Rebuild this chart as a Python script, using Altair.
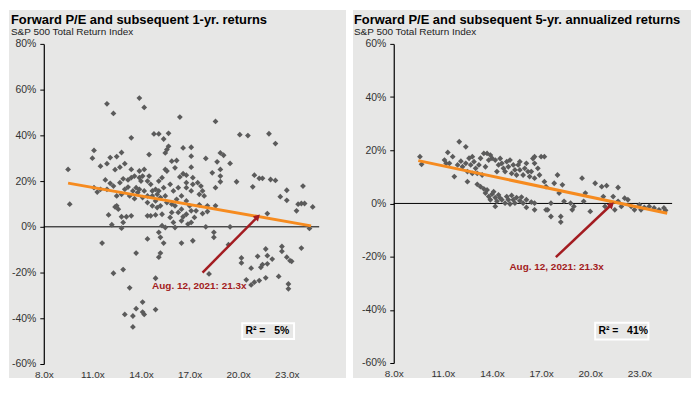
import altair as alt
import pandas as pd

# ---------------- data ----------------
left_pe = [9.5, 9.6, 11.9, 12.3, 13.9, 14.2, 16.4, 18.6, 13.4, 14.8, 15.1, 15.7, 15.4, 11.1, 11.0, 11.5, 11.9, 12.1,
           12.5, 12.8, 13.0, 12.4, 12.7, 13.4, 13.6, 13.4, 13.2, 12.9, 11.8, 12.1, 11.9, 11.1, 11.3, 11.5, 12.3, 12.7,
           12.5, 12.8, 12.4, 12.6, 12.5, 12.0, 12.2, 12.8, 11.6, 12.9, 13.1, 13.4, 12.8, 13.6, 13.8, 13.9, 14.0, 13.9,
           13.9, 14.2, 14.1, 14.4, 14.5, 14.5, 14.6, 14.2, 14.4, 14.7, 14.9, 15.1, 15.3, 15.5, 15.6, 15.5, 15.6, 15.7,
           15.9, 16.2, 16.1, 16.4, 16.6, 16.8, 16.6, 17.1, 17.1, 17.1, 17.2, 16.8, 17.5, 17.7, 17.8, 17.6, 17.9, 18.0,
           18.4, 18.7, 18.9, 18.9, 19.1, 19.5, 18.9, 18.9, 18.6, 19.9, 20.1, 20.6, 21.9, 22.3, 21.0, 20.9, 21.3, 21.5,
           22.0, 22.3, 23.0, 24.0, 22.6, 23.0, 23.7, 23.9, 24.1, 23.6, 24.6, 24.4, 21.8, 19.5, 18.6, 18.1, 18.0, 18.5,
           18.5, 17.2, 16.5, 15.4, 15.1, 15.2, 15.3, 15.5, 16.0, 16.1, 16.9, 17.1, 14.4, 14.4, 14.6, 14.9, 15.3, 15.8,
           16.3, 16.6, 16.8, 17.1, 17.4, 17.3, 16.5, 15.9, 15.0, 14.7, 15.2, 14.9, 15.2, 15.5, 15.6, 15.9, 16.1, 16.2,
           16.5, 16.5, 16.8, 17.0, 16.8, 17.1, 17.2, 16.3, 16.0, 15.8, 15.4, 15.1, 14.4, 14.1, 13.7, 13.5, 13.2, 13.0,
           13.3, 14.7, 15.0, 17.6, 18.1, 17.8, 13.7, 15.2, 15.1, 12.3, 12.9, 14.9, 13.3, 18.2, 20.2, 20.2, 21.2, 21.7,
           21.8, 22.1, 22.7, 22.7, 23.0, 23.2, 23.3, 23.9, 20.8, 21.4, 21.5, 21.8, 21.3, 21.0, 20.8, 20.5, 21.7, 22.5,
           23.1, 23.1, 14.1, 13.7, 13.0, 13.5, 14.1, 14.2, 14.9, 13.5, 19.4]
left_ret = [25.1, 9.9, 53.8, 49.6, 56.3, 52.2, 48.0, 46.1, 38.9, 40.6, 40.6, 40.9, 38.4, 33.4, 30.0, 26.5, 27.6, 30.3,
            30.7, 32.5, 27.6, 25.0, 26.1, 25.1, 22.2, 21.5, 20.5, 21.0, 20.5, 19.0, 16.4, 17.1, 15.2, 16.4, 17.8, 19.3,
            13.5, 14.2, 8.7, 7.7, 9.2, 5.2, 0.9, -0.6, -7.1, 1.9, 4.4, 4.8, 4.4, 12.3, 15.0, 16.4, 20.0, 21.5,
            24.4, 25.1, 22.2, 20.0, 22.2, 31.6, 18.6, 15.7, 13.5, 15.7, 16.4, 20.0, 21.5, 25.1, 24.4, 32.3, 33.8, 35.2,
            28.7, 29.0, 25.8, 21.8, 23.2, 22.6, 34.5, 34.8, 30.9, 26.1, 21.5, 19.3, 19.3, 17.8, 15.7, 14.2, 13.5, 29.9,
            23.6, 28.4, 25.1, 32.3, 31.3, 27.7, 22.2, 19.7, 17.1, 19.7, 40.3, 39.9, 40.7, 36.4, 22.6, 17.5, 21.2, 21.2,
            20.7, 20.3, 16.0, 17.8, 13.2, 11.6, 9.9, 10.2, 10.2, 7.0, 8.7, -0.7, 5.8, 0.0, 9.2, 6.7, 0.0, -2.4,
            -4.6, -6.1, -7.1, -7.1, -2.4, -4.6, 0.5, -0.3, 1.9, -0.3, 1.2, 1.9, -5.3, 4.8, 4.8, 5.2, 5.5, 4.1,
            6.3, 4.4, 5.5, 7.0, 7.0, 4.1, 2.6, 6.3, 8.4, 9.2, 9.2, 11.3, 12.8, 13.5, 10.6, 9.9, 9.2, 12.0,
            13.5, 7.7, 11.3, 9.2, 17.1, 15.7, 18.6, 17.1, 15.7, 18.6, 17.1, 15.7, 10.6, 12.8, 17.1, 15.7, 17.4, 16.4,
            13.5, 13.5, 14.2, 9.6, 9.2, 5.8, -11.5, -11.5, -13.3, -20.3, -18.7, -22.5, -26.7, -20.6, -13.6, -15.8, -12.9, -9.7,
            -12.6, -14.1, -8.6, -10.7, -13.3, -14.8, -15.1, -9.3, -18.1, -17.7, -16.5, -16.2, -23.5, -24.2, -25.4, -23.2, -22.3, -21.7,
            -25.0, -27.1, -32.9, -35.8, -38.3, -39.0, -37.3, -38.3, -36.2, -43.8, -7.8]

right_pe = [9.6, 9.7, 12.0, 12.4, 11.3, 11.6, 11.1, 11.4, 11.7, 11.2, 11.9, 12.1, 12.2, 12.4, 12.6, 12.8, 12.7, 12.9,
            12.5, 12.5, 13.0, 13.2, 13.1, 12.8, 13.3, 13.5, 13.7, 13.9, 14.0, 13.8, 13.6, 13.4, 13.1, 13.3, 13.7, 13.6,
            13.8, 13.9, 14.2, 14.3, 14.2, 14.4, 14.6, 14.8, 14.9, 15.0, 15.1, 15.3, 15.4, 15.5, 15.7, 15.9, 16.1, 16.1,
            16.4, 16.6, 14.4, 14.3, 14.2, 14.5, 14.6, 14.7, 14.8, 14.9, 15.0, 15.1, 15.2, 15.3, 15.4, 15.5, 15.6, 15.7,
            15.7, 15.9, 16.0, 16.1, 16.2, 16.3, 16.4, 16.5, 16.6, 16.6, 16.8, 16.9, 17.0, 17.2, 16.6, 17.2, 17.3, 17.8,
            18.0, 18.3, 18.1, 18.4, 18.8, 19.0, 17.6, 17.4, 17.3, 17.6, 18.2, 18.2, 19.5, 19.7, 19.6, 20.0, 20.3, 20.7,
            21.0, 20.8, 21.4, 21.7, 21.7, 21.9, 22.1, 22.3, 22.5, 22.7, 23.0, 23.1, 23.3, 23.6, 23.9, 24.2, 24.5, 24.6,
            21.3, 21.5, 20.9, 18.9, 16.6, 14.0, 14.5, 15.2, 15.8, 13.5, 14.1]
right_ret = [17.6, 14.7, 23.2, 21.3, 19.2, 17.6, 16.3, 15.1, 10.1, 15.1, 14.5, 15.9, 13.8, 15.1, 17.0, 17.6, 14.5, 15.7,
             12.0, 8.2, 13.2, 14.5, 11.3, 11.3, 17.0, 18.8, 18.8, 18.2, 17.0, 16.3, 13.8, 10.7, 7.2, 6.3, 5.1, 3.9,
             2.6, 1.4, 2.2, 0.8, -1.1, 3.2, 1.4, 0.1, 2.6, 1.4, -0.2, 1.4, 0.1, 2.2, 1.0, 0.1, 1.4, -1.5,
             0.5, -2.4, 14.5, 12.0, 16.3, 16.9, 15.1, 13.2, 12.0, 15.7, 13.8, 16.3, 11.3, 14.5, 12.6, 10.7, 14.5, 15.7,
             12.6, 10.7, 13.2, 15.1, 12.0, 10.1, 12.0, 16.9, 15.1, 17.6, 13.2, 10.7, 17.6, 17.6, 9.5, 8.2, 6.3, 7.6,
             10.7, 7.0, 3.9, 0.8, 0.1, -1.1, 0.1, -2.4, -2.4, -4.9, -4.9, -7.0, 9.5, 3.9, 0.8, -3.0, 7.6, 6.3,
             6.7, 2.6, 2.6, 6.0, 0.8, -1.1, 2.0, 1.4, -1.1, -2.4, -0.5, -2.4, -1.5, -1.1, -1.7, -2.4, -1.7, -2.6,
             0.1, -2.4, -1.1, -2.4, 0.1, 3.5, 2.0, 3.0, 2.4, 5.5, 4.4]

left_fit_pe = [9.5, 24.5]
left_fit_ret = [19.1, 0.4]
right_fit_pe = [9.5, 24.7]
right_fit_ret = [16.1, -3.7]

pe_ticks = [8, 11, 14, 17, 20, 23]
left_ret_ticks = [-60, -40, -20, 0, 20, 40, 60, 80]
right_ret_ticks = [-60, -40, -20, 0, 20, 40, 60]

left_title = "Forward P/E and subsequent 1-yr. returns"
right_title = "Forward P/E and subsequent 5-yr. annualized returns"
subtitle = "S&P 500 Total Return Index"
callout = "Aug. 12, 2021: 21.3x"

left_arrow_pe = [17.8, 21.2]
left_arrow_ret = [-20.0, 4.4]
right_arrow_pe = [17.9, 21.3]
right_arrow_ret = [-20.2, -0.4]
left_callout_pos = [17.6, -27.0]
right_callout_pos = [17.95, -25.0]

left_r2 = "R\u00b2 =\u00a0\u00a0\u00a05%"
right_r2 = "R\u00b2 =\u00a0\u00a0\u00a041%"
left_r2_box = [20.25, 23.45, -42.2, -49.1]
right_r2_box = [20.3, 23.55, -44.9, -51.2]
left_r2_pos = [20.45, -46.9]
right_r2_pos = [20.5, -49.2]

# ---------------- styling ----------------
FONT = "Liberation Sans"
BG = "#e7e7e6"
PT = "#5b5b5b"
ORANGE = "#f68b1f"
RED = "#a31c21"


def panel(pe, ret, fit_pe, fit_ret, arr_pe, arr_ret, cpos, r2txt, r2box, r2pos,
          ydom, yticks, w, h, title, rect, title_dx):
    xs = alt.Scale(domain=[8, 25], nice=False, zero=False)
    ys = alt.Scale(domain=ydom, nice=False, zero=False)
    xaxis = alt.Axis(values=pe_ticks, labelExpr="format(datum.value, '.1f') + 'x'", domain=False,
                     ticks=False, labelPadding=6, title=None, grid=False, labelFlush=False,
                     labelFont=FONT, labelFontSize=10, labelColor="#333333", zindex=1)
    yaxis = alt.Axis(values=yticks, labelExpr="datum.value + '%'", domain=True, domainColor="black",
                     domainWidth=1.2, tickColor="black", tickSize=4, labelPadding=4, title=None, grid=False,
                     labelFlush=False, labelFont=FONT, labelFontSize=10.5, labelColor="#333333", zindex=1)
    X = alt.X("pe:Q", scale=xs, axis=xaxis)
    Y = alt.Y("ret:Q", scale=ys, axis=yaxis)

    one = pd.DataFrame({"pe": [8], "ret": [0]})
    pts = pd.DataFrame({"pe": pe, "ret": ret})
    fit = pd.DataFrame({"pe": fit_pe, "ret": fit_ret})
    arr = pd.DataFrame({"pe": arr_pe, "ret": arr_ret})
    head = arr.tail(1)
    lab = pd.DataFrame({"pe": [cpos[0]], "ret": [cpos[1]], "t": [callout]})
    box = pd.DataFrame({"pe": [r2box[0]], "pe2": [r2box[1]], "ret": [r2box[2]], "ret2": [r2box[3]]})
    r2 = pd.DataFrame({"pe": [r2pos[0]], "ret": [r2pos[1]], "t": [r2txt]})

    bg = alt.Chart(one).mark_rect(fill=BG).encode(
        x=alt.value(rect[0]), x2=alt.value(rect[1]), y=alt.value(rect[2]), y2=alt.value(rect[3]))
    zero = alt.Chart(one).mark_rule(color="black", strokeWidth=1).encode(
        y=Y, x=alt.value(0), x2=alt.value(w))
    dots = alt.Chart(pts).mark_point(shape="diamond", filled=True, size=34, color=PT, opacity=1).encode(x=X, y=Y)
    fitl = alt.Chart(fit).mark_line(color=ORANGE, strokeWidth=3).encode(x=X, y=Y)
    arrl = alt.Chart(arr).mark_line(color=RED, strokeWidth=2.5).encode(x=X, y=Y)
    arrh = alt.Chart(head).mark_point(shape="triangle-up", angle=45, filled=True, size=55,
                                      color=RED, opacity=1).encode(x=X, y=Y)
    labt = alt.Chart(lab).mark_text(font=FONT, fontSize=10, fontWeight="bold", color=RED,
                                    align="center", baseline="alphabetic").encode(x=X, y=Y, text="t:N")
    boxm = alt.Chart(box).mark_rect(fill=BG, stroke="white", strokeWidth=2).encode(
        x=X, x2="pe2:Q", y=Y, y2="ret2:Q")
    r2t = alt.Chart(r2).mark_text(font=FONT, fontSize=10.5, fontWeight="bold", color="black",
                                  align="left", baseline="alphabetic").encode(x=X, y=Y, text="t:N")
    t1 = alt.Chart(one).mark_text(font=FONT, fontSize=13, fontWeight="bold", color="black",
                                  align="left", baseline="alphabetic").encode(
        x=alt.value(title_dx), y=alt.value(-20.5), text=alt.value(title))
    t2 = alt.Chart(one).mark_text(font=FONT, fontSize=10, color="#222222",
                                  align="left", baseline="alphabetic").encode(
        x=alt.value(title_dx), y=alt.value(-8.5), text=alt.value(subtitle))
    return alt.layer(bg, zero, dots, fitl, arrl, arrh, labt, boxm, r2t, t1, t2).properties(width=w, height=h)


left = panel(left_pe, left_ret, left_fit_pe, left_fit_ret, left_arrow_pe, left_arrow_ret, left_callout_pos,
             left_r2, left_r2_box, left_r2_pos, [-60, 80], left_ret_ticks, 277, 322, left_title,
             [-35, 304, -34, 336], -33)
right = panel(right_pe, right_ret, right_fit_pe, right_fit_ret, right_arrow_pe, right_arrow_ret, right_callout_pos,
              right_r2, right_r2_box, right_r2_pos, [-60, 60], right_ret_ticks, 280, 321, right_title,
              [-41, 299, -34, 336], -40)

chart = alt.hconcat(left, right, spacing=5).properties(padding=0).configure_view(stroke=None).configure(
    background="white")

chart.save("out.html", embed_options={"renderer": "svg", "actions": False})
